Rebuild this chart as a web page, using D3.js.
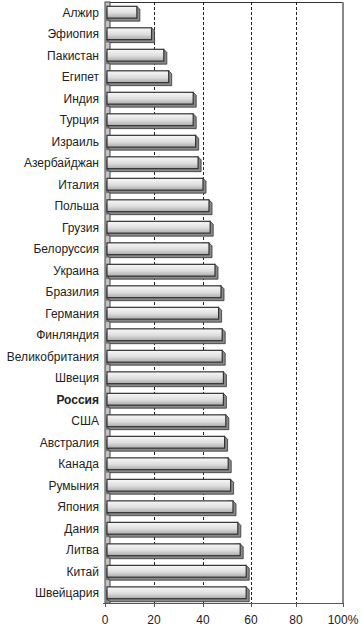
<!DOCTYPE html>
<html>
<head>
<meta charset="utf-8">
<script src="https://cdn.jsdelivr.net/npm/d3@7"></script>
<style>
    body { margin: 0; background: #fff; }
    svg { font-family: "Liberation Sans", Arial, sans-serif; }
</style>
</head>
<body>
<svg id="chart" width="363" height="630"></svg>
<script>
var countries = ["Алжир", "Эфиопия", "Пакистан", "Египет", "Индия", "Турция", "Израиль",
    "Азербайджан", "Италия", "Польша", "Грузия", "Белоруссия", "Украина", "Бразилия",
    "Германия", "Финляндия", "Великобритания", "Швеция", "Россия", "США", "Австралия",
    "Канада", "Румыния", "Япония", "Дания", "Литва", "Китай", "Швейцария"];
var values = [13, 19, 24, 26, 36, 36, 37, 38, 40, 42.5, 43, 42.5, 45, 47.5,
    46.5, 48, 48, 48.5, 48.5, 49.5, 49, 50.5, 51.5, 52.5, 54.5, 55.5, 58, 58];
var ticks = [0, 20, 40, 60, 80, 100];
var highlight = "Россия";

var svg = d3.select('#chart');

// note: "top" is reserved on window, so use plot* names
var plotLeft = 105, plotRight = 343, plotTop = 2, plotBottom = 603;
var depth = 3;

// the original picture is slightly squeezed towards the right, so map ticks piecewise
var x = d3.scaleLinear().domain(ticks).range([105, 154, 203, 251, 296, 343]);
var y = d3.scaleBand().domain(countries).range([plotTop, plotBottom]).paddingInner(0.45).paddingOuter(0.2);

var defs = svg.append('defs');
var grad = defs.append('linearGradient')
    .attr('id', 'barFront')
    .attr('x1', 0).attr('y1', 0).attr('x2', 0).attr('y2', 1);
grad.append('stop').attr('offset', '0%').attr('stop-color', '#f8f8f8');
grad.append('stop').attr('offset', '55%').attr('stop-color', '#dedede');
grad.append('stop').attr('offset', '100%').attr('stop-color', '#aaaaaa');

// frame
svg.append('line')
    .attr('x1', plotLeft).attr('x2', plotRight + 1)
    .attr('y1', plotTop + 0.5).attr('y2', plotTop + 0.5)
    .attr('stroke', '#333');
svg.append('line')
    .attr('x1', plotRight).attr('x2', plotRight)
    .attr('y1', plotTop).attr('y2', plotBottom)
    .attr('stroke', '#888').attr('stroke-width', 2);

// gridlines
svg.append('g').selectAll('line')
    .data(ticks.filter(function(d) { return d > 0 && d < 100; }))
    .enter().append('line')
    .attr('x1', function(d) { return x(d) + 0.5; })
    .attr('x2', function(d) { return x(d) + 0.5; })
    .attr('y1', plotTop).attr('y2', plotBottom)
    .attr('stroke', '#222')
    .attr('stroke-dasharray', '3,2');

// left wall
svg.append('rect')
    .attr('x', plotLeft).attr('y', plotTop)
    .attr('width', 5).attr('height', plotBottom - plotTop)
    .attr('fill', '#c4c4c4').attr('stroke', '#444');

svg.append('g').selectAll('rect')
    .data(countries)
    .enter().append('rect')
    .attr('x', plotLeft + 1)
    .attr('y', function(d) { return y(d) + depth; })
    .attr('width', 4)
    .attr('height', y.bandwidth())
    .attr('fill', '#777');

// bars
var bars = svg.append('g').selectAll('g')
    .data(countries)
    .enter().append('g');

bars.append('path')
    .attr('d', function(d, i) {
        var x0 = plotLeft + 2, x1 = x(values[i]), y0 = y(d), y1 = y(d) + y.bandwidth();
        return 'M' + x1 + ',' + y0 + 'L' + (x1 + depth) + ',' + (y0 + depth) +
            'L' + (x1 + depth) + ',' + (y1 + depth) + 'L' + (x0 + depth) + ',' + (y1 + depth) +
            'L' + x0 + ',' + y1 + 'Z';
    })
    .attr('fill', '#8a8a8a')
    .attr('stroke', '#333')
    .attr('stroke-width', 0.8);

bars.append('rect')
    .attr('x', plotLeft + 2)
    .attr('y', function(d) { return y(d); })
    .attr('width', function(d, i) { return x(values[i]) - plotLeft - 2; })
    .attr('height', y.bandwidth())
    .attr('fill', 'url(#barFront)')
    .attr('stroke', '#333')
    .attr('stroke-width', 1.2);

// bottom axis
svg.append('line')
    .attr('x1', plotLeft - 2).attr('x2', plotRight + 1)
    .attr('y1', plotBottom + 0.5).attr('y2', plotBottom + 0.5)
    .attr('stroke', '#555');

svg.append('g').selectAll('line')
    .data(ticks)
    .enter().append('line')
    .attr('x1', function(d) { return x(d) + 0.5; })
    .attr('x2', function(d) { return x(d) + 0.5; })
    .attr('y1', plotBottom).attr('y2', plotBottom + 4)
    .attr('stroke', '#555');

svg.append('g').selectAll('text')
    .data(ticks)
    .enter().append('text')
    .attr('x', function(d) { return x(d); })
    .attr('y', 624)
    .attr('text-anchor', 'middle')
    .attr('font-size', 12)
    .attr('fill', '#222')
    .text(function(d) { return d === 100 ? '100%' : d; });

// category labels
svg.append('g').selectAll('text')
    .data(countries)
    .enter().append('text')
    .attr('x', 99)
    .attr('y', function(d) { return y(d) + y.bandwidth() / 2 + 4.5; })
    .attr('text-anchor', 'end')
    .attr('font-size', 12)
    .attr('font-weight', function(d) { return d === highlight ? 'bold' : 'normal'; })
    .attr('fill', '#222')
    .text(function(d) { return d; });
</script>
</body>
</html>
